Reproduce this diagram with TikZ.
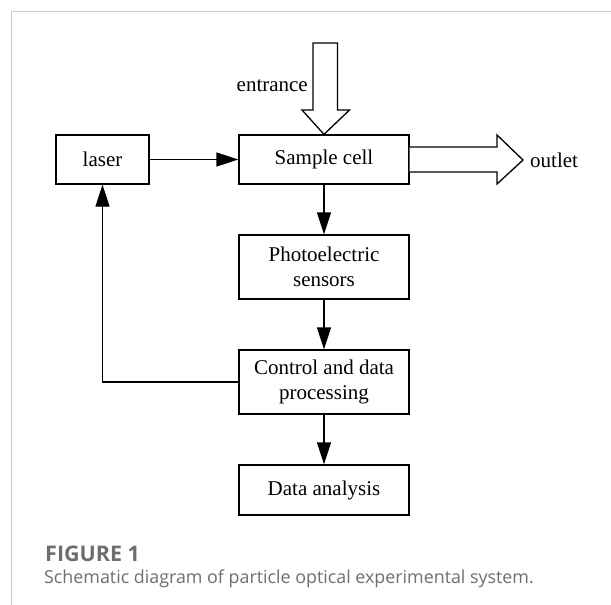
\documentclass[tikz,border=0pt]{standalone}
\usepackage{fontspec}
\setmainfont{Liberation Serif}
\newfontfamily\capfont{Open Sans}
\usetikzlibrary{arrows.meta}
\definecolor{framegray}{HTML}{C8C8C8}
\definecolor{capgray}{HTML}{6E6E6E}
\begin{document}
\begin{tikzpicture}[x=1pt,y=-1pt,
  blk/.style={draw,line width=1.3pt,inner sep=0pt,font=\fontsize{21}{25.5}\selectfont,align=center},
  conn/.style={line width=1.3pt,-{Triangle[length=22pt,width=14pt]}},
  lbl/.style={font=\fontsize{21}{25.5}\selectfont,inner sep=0pt},
  fat/.style={draw,line width=1.3pt,line join=miter,fill=white}]
\useasboundingbox (0,0) rectangle (611,605);
\draw[framegray,line width=1pt] (11.5,605) -- (11.5,11.5) -- (611,11.5);
% boxes
\node[blk,minimum width=170pt,minimum height=49pt] (cell) at (324,159.5) {Sample cell};
\node[blk,minimum width=93pt,minimum height=49pt] (laser) at (102.5,159.5) {laser};
\node[blk,minimum width=170pt,minimum height=64pt] (photo) at (324,267) {Photoelectric\\sensors};
\node[blk,minimum width=170pt,minimum height=64pt] (ctrl) at (324,382) {Control and data\\processing};
\node[blk,minimum width=170pt,minimum height=50pt] (data) at (324,490) {Data analysis};
% connectors
\draw[conn] (laser) -- (cell);
\draw[conn] (cell) -- (photo);
\draw[conn] (photo) -- (ctrl);
\draw[conn] (ctrl) -- (data);
\draw[conn] (ctrl.west) -| (laser.south);
% entrance arrow
\coordinate (entip) at (cell.north);
\draw[fat] (313,43) -- (313,110) -- (302,110) -- (entip) -- (349.5,110) -- (337.5,110) -- (337.5,43) -- cycle;
\node[lbl,anchor=east] (entr) at (308,86) {entrance};
% outlet arrow
\coordinate (outtip) at (523,160);
\draw[fat] (cell.east |- 0,147) -- (497,147) -- (497,135) -- (outtip) -- (497,184) -- (497,172) -- (cell.east |- 0,172);
\node[lbl,anchor=west] (outl) at (530,160) {outlet};
% caption
\node[anchor=base west,inner sep=0pt,text=capgray,font=\capfont\bfseries\fontsize{21.5}{24}\selectfont] (fig) at (45,561.5) {FIGURE 1};
\node[anchor=base west,inner sep=0pt,text=capgray,font=\capfont\fontsize{17.85}{20}\selectfont] (cap) at (44,583.5) {Schematic diagram of particle optical experimental system.};
\end{tikzpicture}
\end{document}
